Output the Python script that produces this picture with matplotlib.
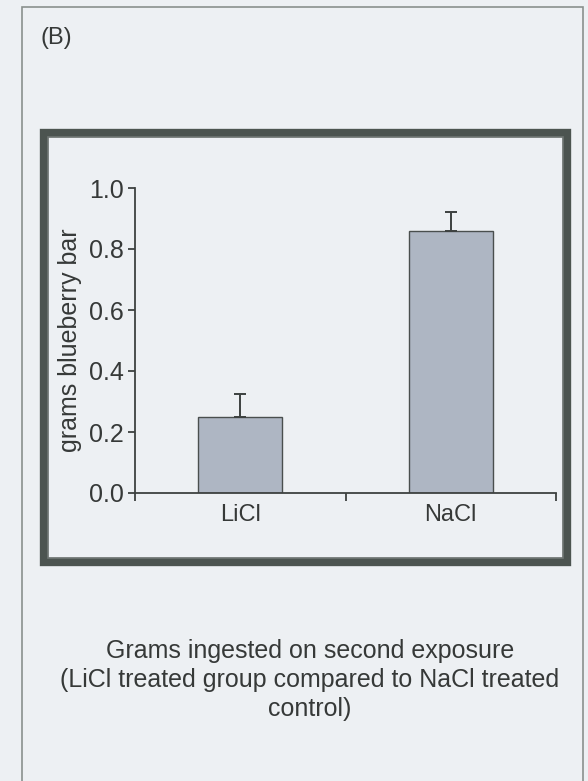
import matplotlib
matplotlib.use("Agg")
import matplotlib.pyplot as plt
from matplotlib.patches import Rectangle

categories = ["LiCl", "NaCl"]
values = [0.25, 0.86]
errors = [0.075, 0.06]
yticks = [0.0, 0.2, 0.4, 0.6, 0.8, 1.0]
ylabel = "grams blueberry bar"
panel = "(B)"
caption = "Grams ingested on second exposure\n(LiCl treated group compared to NaCl treated\ncontrol)"

plt.rcParams['font.family'] = ['Liberation Sans', 'DejaVu Sans']

W, H = 588, 781
bg = "#edf0f3"
txt = "#363938"
fig = plt.figure(figsize=(W / 100, H / 100), dpi=100, facecolor=bg)

def fx(px):
    return px / W

def fy(py):
    return 1 - py / H

# outer thin page box
fig.add_artist(Rectangle((fx(22), fy(790)), fx(583) - fx(22), fy(7) - fy(790),
                         transform=fig.transFigure, fill=False,
                         edgecolor="#8a908d", linewidth=1.2))
# thick dark frame
fig.add_artist(Rectangle((fx(44), fy(562)), fx(567) - fx(44), fy(133) - fy(562),
                         transform=fig.transFigure, fill=False,
                         edgecolor="#4c5450", linewidth=6.0))
fig.add_artist(Rectangle((fx(48), fy(558)), fx(563) - fx(48), fy(137) - fy(558),
                         transform=fig.transFigure, fill=False,
                         edgecolor="#6f7673", linewidth=1.2))

ax = fig.add_axes([fx(135), fy(493), fx(556) - fx(135), fy(188) - fy(493)])
ax.set_facecolor("none")
xpos = [0.5, 1.5]
ax.bar(xpos, values, width=0.4, color="#aeb6c3", edgecolor="#4a4f4e", linewidth=1.0, zorder=2)
ax.errorbar(xpos, values, yerr=[[0, 0], errors], fmt="none", ecolor="#3d4140",
            elinewidth=1.4, capsize=4.5, capthick=1.4, zorder=3)
ax.set_xlim(0, 2)
ax.set_ylim(0, 1.0)
ax.set_yticks(yticks)
ax.set_yticklabels([f"{v:.1f}" for v in yticks], fontsize=18, color=txt)
ax.set_xticks([0, 1, 2])
ax.set_xticklabels([])
ax.set_xticks(xpos, minor=True)
ax.set_xticklabels(categories, minor=True, fontsize=17, color=txt)
ax.tick_params(axis="x", which="minor", length=0, pad=8)
ax.tick_params(axis="x", which="major", length=6, width=1.3, color="#3d4140", direction="out")
ax.tick_params(axis="y", length=5, width=1.3, color="#3d4140", direction="out", pad=3)
for s in ["top", "right"]:
    ax.spines[s].set_visible(False)
for s in ["left", "bottom"]:
    ax.spines[s].set_linewidth(1.3)
    ax.spines[s].set_color("#3d4140")
ax.set_ylabel(ylabel, fontsize=18, color=txt)
ax.yaxis.set_label_coords((82 - 135) / (556 - 135), 0.5)

fig.text(fx(40), fy(38), panel, fontsize=17, color=txt, ha="left", va="center")
fig.text(fx(310), fy(680), caption, fontsize=18, color=txt, ha="center", va="center",
         linespacing=1.25, multialignment="center")

fig.savefig("out.png", dpi=100, facecolor=bg)
